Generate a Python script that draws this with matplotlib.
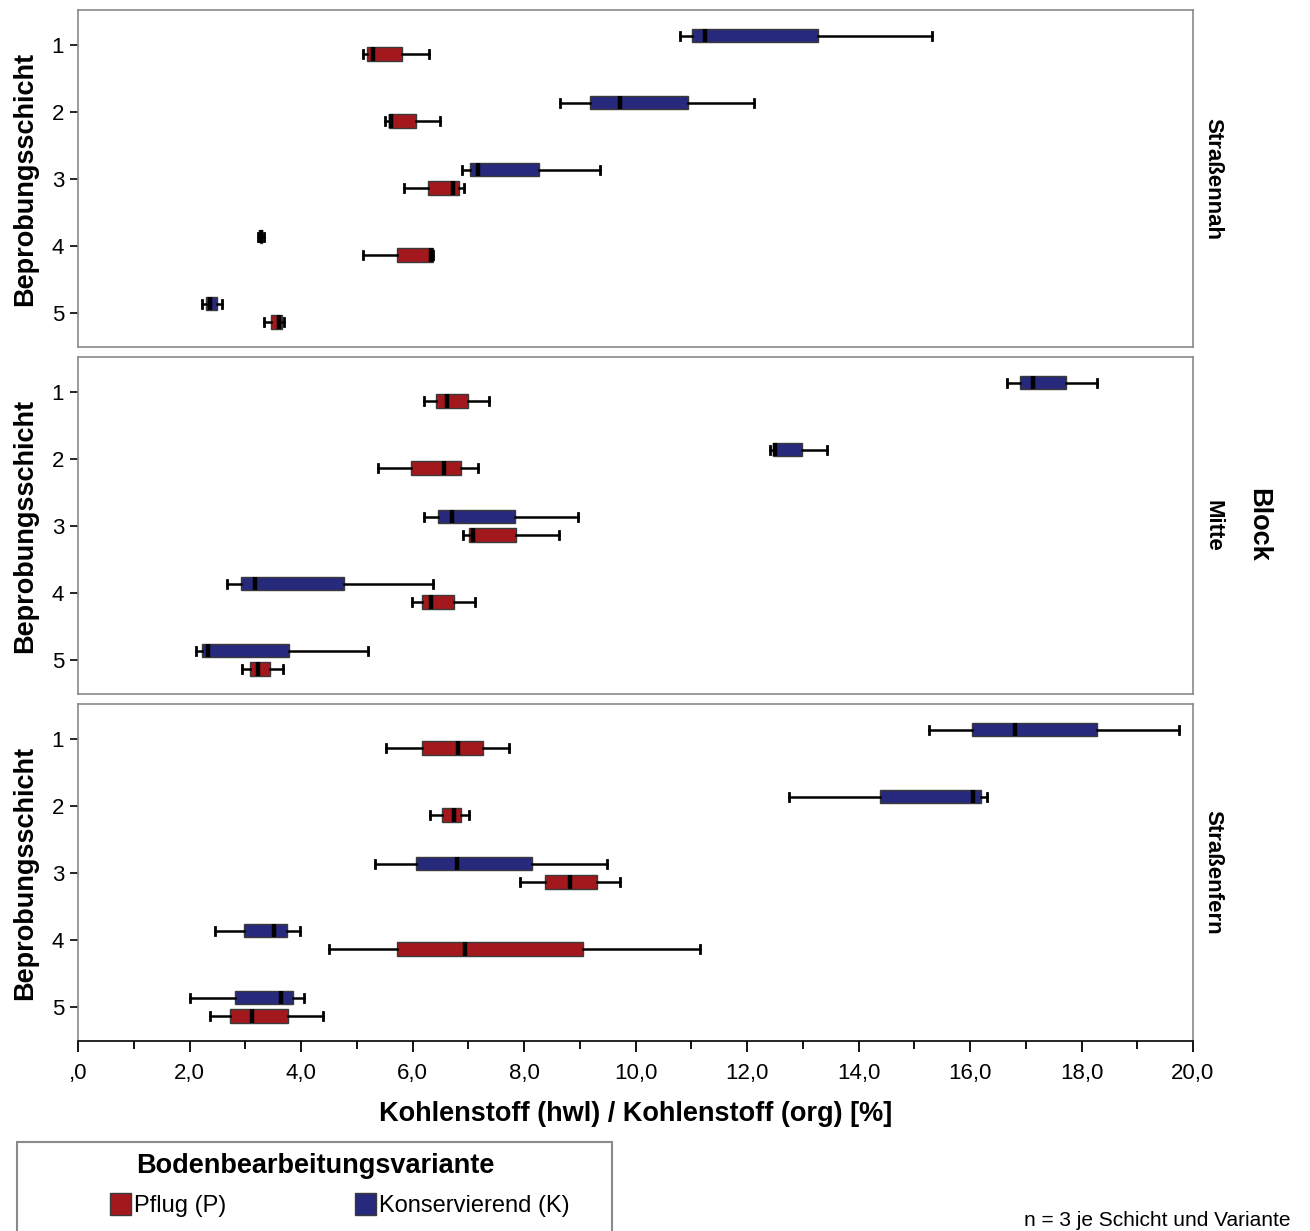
import matplotlib
matplotlib.use("Agg")
import matplotlib.pyplot as plt
from matplotlib.patches import Rectangle
from matplotlib.ticker import FuncFormatter, MultipleLocator

plt.rcParams["font.family"] = ["Liberation Sans", "DejaVu Sans"]

schichten = [1, 2, 3, 4, 5]
bloecke = ["Straßennah", "Mitte", "Straßenfern"]

# [Whisker unten, Q1, Median, Q3, Whisker oben] je Schicht 1..5
nah_pflug = [[5.12, 5.19, 5.29, 5.81, 6.30],
             [5.51, 5.57, 5.61, 6.06, 6.49],
             [5.85, 6.28, 6.72, 6.83, 6.93],
             [5.12, 5.72, 6.33, 6.37, 6.37],
             [3.34, 3.46, 3.61, 3.66, 3.70]]
nah_kons = [[10.80, 11.01, 11.25, 13.28, 15.32],
            [8.65, 9.18, 9.73, 10.94, 12.13],
            [6.89, 7.03, 7.17, 8.27, 9.37],
            [3.23, 3.26, 3.28, 3.30, 3.33],
            [2.23, 2.30, 2.36, 2.49, 2.59]]
mitte_pflug = [[6.21, 6.42, 6.61, 7.00, 7.37],
               [5.39, 5.97, 6.57, 6.87, 7.18],
               [6.91, 7.01, 7.09, 7.86, 8.62],
               [5.99, 6.17, 6.34, 6.74, 7.13],
               [2.94, 3.08, 3.22, 3.44, 3.68]]
mitte_kons = [[16.67, 16.90, 17.13, 17.72, 18.27],
              [12.42, 12.46, 12.50, 12.98, 13.43],
              [6.21, 6.45, 6.70, 7.83, 8.96],
              [2.67, 2.92, 3.17, 4.78, 6.37],
              [2.11, 2.22, 2.34, 3.78, 5.20]]
fern_pflug = [[5.52, 6.17, 6.82, 7.27, 7.73],
              [6.31, 6.53, 6.74, 6.87, 7.02],
              [7.92, 8.38, 8.82, 9.31, 9.73],
              [4.51, 5.72, 6.95, 9.06, 11.15],
              [2.36, 2.73, 3.12, 3.76, 4.39]]
fern_kons = [[15.26, 16.03, 16.81, 18.28, 19.75],
             [12.75, 14.39, 16.06, 16.19, 16.31],
             [5.33, 6.06, 6.80, 8.14, 9.48],
             [2.45, 2.97, 3.51, 3.75, 3.99],
             [2.00, 2.82, 3.65, 3.86, 4.06]]

panel_daten = [(nah_pflug, nah_kons), (mitte_pflug, mitte_kons), (fern_pflug, fern_kons)]

ROT = "#A3181C"
BLAU = "#27297C"
RAHMEN = "#8a8a8a"
W, H = 1310, 1231


def stats(rows):
    return [dict(whislo=r[0], q1=r[1], med=r[2], q3=r[3], whishi=r[4], fliers=[])
            for r in rows]


def draw_boxes(ax, rows, offset, color):
    ax.bxp(stats(rows), positions=[s + offset for s in schichten], widths=0.2,
           orientation="horizontal", patch_artist=True, showfliers=False,
           manage_ticks=False, capwidths=0.12,
           boxprops=dict(facecolor=color, edgecolor="#3a3a3a", linewidth=1.0),
           medianprops=dict(color="black", linewidth=3.2),
           whiskerprops=dict(color="black", linewidth=1.8),
           capprops=dict(color="black", linewidth=2.0))


def fmt_de(v, pos):
    s = f"{v:.1f}".replace(".", ",")
    return s[1:] if s.startswith("0") else s


fig = plt.figure(figsize=(W / 100, H / 100), dpi=100)
panel_tops = [10, 357, 704]
for i, ((pflug, kons), name) in enumerate(zip(panel_daten, bloecke)):
    top = panel_tops[i]
    ax = fig.add_axes([78 / W, 1 - (top + 337) / H, 1115 / W, 337 / H])
    draw_boxes(ax, kons, -0.135, BLAU)
    draw_boxes(ax, pflug, 0.135, ROT)
    ax.set_xlim(0, 20)
    ax.set_ylim(5.51, 0.48)
    ax.set_yticks(schichten)
    ax.tick_params(axis="y", labelsize=16, length=6, width=1.2, pad=4)
    for sp in ax.spines.values():
        sp.set_color(RAHMEN)
        sp.set_linewidth(1.2)
    ax.set_ylabel("Beprobungsschicht", fontsize=19.5, fontweight="bold", labelpad=10)
    ax.text(1.0 + 20 / 1115, 0.5, name, transform=ax.transAxes, rotation=-90,
            ha="center", va="center", fontsize=16, fontweight="bold")
    if i < 2:
        ax.tick_params(axis="x", bottom=False, labelbottom=False)
    else:
        ax.spines["bottom"].set_color("black")
        ax.xaxis.set_major_locator(MultipleLocator(2))
        ax.xaxis.set_minor_locator(MultipleLocator(1))
        ax.xaxis.set_major_formatter(FuncFormatter(fmt_de))
        ax.tick_params(axis="x", which="major", labelsize=16, length=8, width=1.3, pad=8)
        ax.tick_params(axis="x", which="minor", length=6, width=1.3)
        ax.set_xlabel("Kohlenstoff (hwl) / Kohlenstoff (org) [%]", fontsize=19.5,
                      fontweight="bold", labelpad=12)

fig.text(1258 / W, 1 - 525 / H, "Block", rotation=-90, ha="center", va="center",
         fontsize=19.5, fontweight="bold")

# Legende
fig.patches.append(Rectangle((17 / W, 1 - 1250 / H), 595 / W, 108 / H,
                             transform=fig.transFigure, fill=False,
                             edgecolor=RAHMEN, linewidth=1.5))
fig.text(315 / W, 1 - 1166 / H, "Bodenbearbeitungsvariante", ha="center", va="center",
         fontsize=19.5, fontweight="bold")
for x0, color, label in [(110, ROT, "Pflug (P)"), (355, BLAU, "Konservierend (K)")]:
    fig.patches.append(Rectangle((x0 / W, 1 - 1215 / H), 21 / W, 22 / H,
                                 transform=fig.transFigure, facecolor=color,
                                 edgecolor="#3a3a3a", linewidth=1.0))
    fig.text((x0 + 24) / W, 1 - 1206 / H, label, ha="left", va="center", fontsize=17)

fig.text(1290 / W, 1 - 1220 / H, "n = 3 je Schicht und Variante", ha="right",
         va="center", fontsize=15)

fig.savefig("out.png", dpi=100)
